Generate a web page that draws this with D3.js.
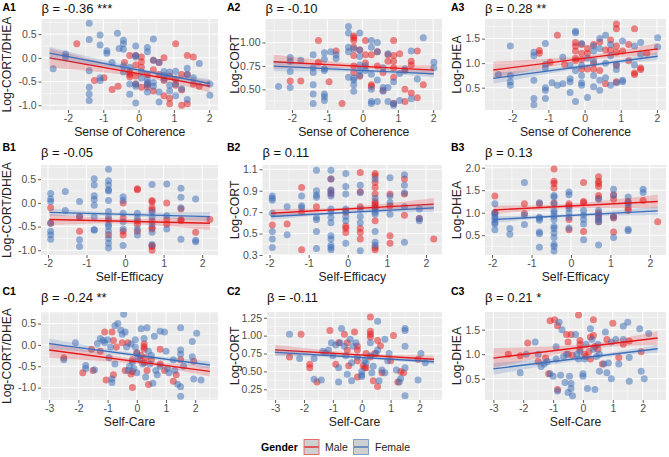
<!DOCTYPE html>
<html><head><meta charset="utf-8">
<script src="https://cdn.jsdelivr.net/npm/d3@7"></script>
<style>body{margin:0;background:#fff} svg{display:block} text{font-family:"Liberation Sans",Arial,Helvetica,sans-serif}</style>
</head><body><svg id="c" width="669" height="457"></svg>
<script>
// ---------------- DATA ----------------
const panelIds = ["A1","A2","A3","B1","B2","B3","C1","C2","C3"];
const betaLabels = ["β = -0.36 ***","β = -0.10","β = 0.28 **","β = -0.05","β = 0.11","β = 0.13","β = -0.24 **","β = -0.11","β = 0.21 *"];
const xTitles = ["Sense of Coherence","Self-Efficacy","Self-Care"];
const yTitles = ["Log-CORT/DHEA","Log-CORT","Log-DHEA"];
const genders = ["Male","Female"];
const xDomains = [[-2.75,2.25],[-2.18,2.41],[-3.28,2.78]];
const xTicksA = [-2,-1,0,1,2];
const xTicksB = [-2,-1,0,1,2];
const xTicksC = [-3,-2,-1,0,1,2];
const yDomains = [[-1.1,0.82],[0.28,1.25],[0.045,1.9],[-1.1,0.80],[0.30,1.14],[0.06,2.06],[-1.29,0.77],[0.10,1.33],[0.065,1.86]];
const yTicks1 = [-1.0,-0.5,0.0,0.5];
const yTicksA2 = [0.50,0.75,1.00];
const yTicksB2 = [0.3,0.5,0.7,0.9,1.1];
const yTicksC2 = [0.25,0.50,0.75,1.00,1.25];
const yTicks3 = [0.5,1.0,1.5];
const yTicksB3 = [0.5,1.0,1.5,2.0];

// regression lines [[x0,y0],[x1,y1]] and CI half-widths [left, min, right]
const a1LineMale=[[-2.52,0.0],[2.02,-0.60]],   a1BandMale=[0.20,0.055,0.13];
const a1LineFemale=[[-2.52,0.10],[2.02,-0.54]], a1BandFemale=[0.13,0.04,0.09];
const a2LineMale=[[-2.52,0.795],[2.02,0.705]], a2BandMale=[0.075,0.022,0.055];
const a2LineFemale=[[-2.52,0.748],[2.02,0.665]], a2BandFemale=[0.055,0.016,0.04];
const a3LineMale=[[-2.52,0.86],[2.02,1.29]],   a3BandMale=[0.17,0.05,0.12];
const a3LineFemale=[[-2.52,0.69],[2.02,1.14]], a3BandFemale=[0.11,0.035,0.08];
const b1LineMale=[[-1.96,-0.35],[2.2,-0.43]],  b1BandMale=[0.12,0.05,0.14];
const b1LineFemale=[[-1.96,-0.20],[2.2,-0.29]], b1BandFemale=[0.08,0.035,0.10];
const b2LineMale=[[-1.96,0.69],[2.2,0.775]],   b2BandMale=[0.04,0.015,0.055];
const b2LineFemale=[[-1.96,0.66],[2.2,0.74]],  b2BandFemale=[0.03,0.012,0.04];
const b3LineMale=[[-1.96,1.06],[2.2,1.25]],    b3BandMale=[0.10,0.045,0.15];
const b3LineFemale=[[-1.96,0.85],[2.2,1.04]],  b3BandFemale=[0.07,0.03,0.09];
const c1LineMale=[[-3,-0.12],[2.5,-0.62]],     c1BandMale=[0.18,0.05,0.12];
const c1LineFemale=[[-3,0.03],[2.5,-0.47]],    c1BandFemale=[0.12,0.04,0.09];
const c2LineMale=[[-3,0.80],[2.5,0.67]],       c2BandMale=[0.07,0.02,0.05];
const c2LineFemale=[[-3,0.765],[2.5,0.635]],   c2BandFemale=[0.05,0.015,0.035];
const c3LineMale=[[-3,0.92],[2.5,1.33]],       c3BandMale=[0.2,0.05,0.14];
const c3LineFemale=[[-3,0.70],[2.5,1.11]],     c3BandFemale=[0.12,0.035,0.08];

// scatter points [x, y]
const a1Female=[[-2.42,-0.23],[-2.07,0.08],[-2.07,0.02],[-1.40,0.73],[-1.40,0.39],[-1.40,-0.27],[-1.40,-0.62],[-1.40,-0.76],[-1.40,-0.90],[-1.09,0.48],[-1.09,0.27],[-1.09,-0.42],[-1.09,-0.48],[-0.90,0.10],[-0.90,0.15],[-0.75,-0.10],[-0.60,0.52],[-0.55,0.20],[-0.43,0.30],[-0.43,0.37],[-0.43,0.18],[-0.43,-0.17],[-0.43,-0.30],[-0.25,-0.55],[-0.25,-0.77],[-0.25,-0.20],[-0.08,0.05],[-0.08,0.25],[-0.08,0.02],[-0.08,-0.55],[-0.08,-0.60],[-0.08,-0.95],[0.08,-0.43],[0.08,-0.30],[0.25,0.22],[0.25,0.13],[0.25,-0.45],[0.25,-0.52],[0.25,-0.57],[0.25,-0.72],[0.42,0.40],[0.42,-0.05],[0.42,-0.52],[0.42,-0.60],[0.58,-0.10],[0.58,-0.72],[0.58,-0.93],[0.72,-0.29],[0.72,-0.37],[0.72,-0.45],[0.88,-0.58],[0.88,-0.70],[0.88,-0.30],[1.05,-0.80],[1.05,-0.28],[1.05,-0.55],[1.22,-0.65],[1.38,-0.22],[1.38,-0.35],[1.38,-0.88],[1.55,-0.42],[1.72,-0.12],[2.02,-0.55],[2.02,-0.79]];
const a1Male=[[-1.75,0.30],[-1.25,-0.48],[-0.98,-0.42],[-0.75,-0.67],[-0.58,-0.60],[-0.40,-0.10],[-0.25,0.05],[-0.25,-0.30],[-0.25,-0.35],[-0.25,-0.40],[-0.08,0.05],[-0.08,-0.15],[-0.08,-0.38],[-0.08,-0.55],[0.08,0.02],[0.08,-0.08],[0.08,-0.20],[0.08,-0.62],[0.25,-0.35],[0.25,-0.55],[0.25,-0.62],[0.42,-0.05],[0.42,-0.25],[0.58,-0.35],[0.72,0.00],[0.72,-0.48],[0.72,-0.80],[0.88,-0.38],[0.88,-0.85],[0.88,-0.97],[1.05,0.30],[1.05,-0.45],[1.05,-0.58],[1.22,-0.35],[1.22,-0.68],[1.22,-1.00],[1.38,0.05],[1.38,-0.35],[1.38,-0.97],[1.55,-0.55],[1.72,-0.60],[1.55,0.02],[0.58,-0.10],[0.42,-0.70]];
const a2Female=[[-2.38,0.53],[-2.05,0.84],[-2.05,0.80],[-2.05,0.69],[-2.05,0.52],[-1.75,0.81],[-1.40,0.87],[-1.40,0.73],[-1.40,0.68],[-1.40,0.55],[-1.40,0.45],[-1.40,0.35],[-1.08,0.89],[-1.08,0.82],[-1.08,0.72],[-1.08,0.70],[-1.08,0.45],[-1.08,0.42],[-1.08,0.38],[-0.90,0.90],[-0.75,0.87],[-0.75,0.83],[-0.40,1.17],[-0.40,1.10],[-0.40,0.95],[-0.40,0.90],[-0.40,0.63],[-0.25,0.62],[-0.25,0.60],[-0.25,0.55],[-0.25,0.48],[-0.25,0.93],[-0.08,1.10],[-0.08,0.92],[-0.08,0.85],[-0.08,0.76],[-0.08,0.70],[-0.08,0.65],[0.08,0.75],[0.08,0.70],[0.25,1.02],[0.25,0.95],[0.25,0.66],[0.25,0.50],[0.25,0.37],[0.25,0.35],[0.42,1.00],[0.42,0.90],[0.42,0.60],[0.42,0.37],[0.58,0.73],[0.58,0.52],[0.58,0.48],[0.72,0.88],[0.72,0.52],[0.72,0.37],[0.88,0.58],[0.88,0.33],[0.88,0.35],[1.05,0.67],[1.05,0.38],[1.20,0.72],[1.38,0.91],[1.38,0.40],[1.55,0.61],[1.72,1.05],[2.02,0.79],[2.02,0.73]];
const a2Male=[[-2.05,0.59],[-1.75,0.59],[-1.25,1.02],[-1.25,0.79],[-0.95,0.58],[-0.75,0.91],[-0.58,0.35],[-0.25,1.07],[-0.25,1.05],[-0.25,1.02],[-0.25,0.95],[-0.25,0.86],[-0.25,0.75],[-0.25,0.68],[-0.08,0.92],[-0.08,0.64],[0.08,1.02],[0.08,0.87],[0.08,0.78],[0.25,0.87],[0.25,0.55],[0.25,0.53],[0.42,0.90],[0.42,0.75],[0.58,0.68],[0.58,0.49],[0.72,0.87],[0.72,0.80],[0.88,1.02],[0.88,0.86],[0.88,0.80],[0.88,0.73],[0.88,0.63],[0.88,0.35],[1.05,0.88],[1.20,0.70],[1.20,0.50],[1.20,0.37],[1.38,0.80],[1.38,0.76],[1.38,0.46],[1.55,0.91],[1.55,0.41],[1.72,0.55]];
const a3Female=[[-2.38,0.77],[-2.05,1.35],[-2.05,0.75],[-2.05,0.62],[-2.05,0.55],[-1.40,1.22],[-1.40,1.15],[-1.40,0.65],[-1.40,0.28],[-1.40,0.15],[-1.08,1.40],[-1.08,0.98],[-1.08,0.90],[-1.08,0.50],[-1.08,0.45],[-1.08,0.28],[-0.90,0.60],[-0.75,0.55],[-0.60,1.12],[-0.60,0.58],[-0.40,0.95],[-0.40,0.68],[-0.40,0.62],[-0.40,0.40],[-0.25,1.65],[-0.25,1.62],[-0.25,0.85],[-0.25,0.22],[-0.08,1.40],[-0.08,0.95],[-0.08,0.75],[-0.08,0.60],[-0.08,0.55],[0.08,1.10],[0.08,0.30],[0.25,1.35],[0.25,1.25],[0.25,1.05],[0.25,0.75],[0.25,0.52],[0.42,1.50],[0.42,1.30],[0.42,0.65],[0.42,0.45],[0.58,1.57],[0.58,1.00],[0.58,0.70],[0.72,1.38],[0.72,1.15],[0.72,0.55],[0.88,0.98],[0.88,0.87],[0.88,0.60],[1.05,0.65],[1.05,0.62],[1.05,1.45],[1.38,1.35],[1.38,0.96],[1.55,1.42],[1.55,1.18],[2.02,1.52],[2.02,1.33]];
const a3Male=[[-1.25,1.26],[-1.25,1.20],[-0.95,1.02],[-0.75,1.57],[-0.55,0.97],[-0.25,1.42],[-0.25,1.35],[-0.25,1.25],[-0.25,1.10],[-0.25,1.05],[-0.08,1.38],[-0.08,1.20],[-0.08,1.07],[-0.08,0.88],[0.08,1.30],[0.08,1.20],[0.08,0.88],[0.25,1.38],[0.25,1.00],[0.25,0.88],[0.42,1.43],[0.42,0.85],[0.58,1.27],[0.58,0.58],[0.72,1.47],[0.72,1.27],[0.88,1.80],[0.88,1.70],[0.88,1.35],[0.88,1.22],[0.88,0.95],[0.88,0.62],[1.05,1.25],[1.22,1.38],[1.22,1.05],[1.38,1.70],[1.38,0.80],[1.38,0.77],[1.55,0.90],[1.55,0.87],[1.72,1.20]];
const b1Female=[[-1.93,0.20],[-1.93,0.08],[-1.93,0.03],[-1.93,-0.43],[-1.93,-0.60],[-1.93,-0.67],[-1.93,-0.77],[-1.55,0.24],[-1.55,-0.16],[-1.18,0.03],[-1.18,-0.30],[-1.18,-0.78],[-1.18,-0.92],[-0.80,0.51],[-0.80,0.38],[-0.80,0.15],[-0.80,0.07],[-0.80,-0.05],[-0.80,-0.30],[-0.80,-0.56],[-0.80,-0.58],[-0.43,0.71],[-0.43,0.47],[-0.43,0.38],[-0.43,0.28],[-0.43,0.25],[-0.43,0.05],[-0.43,-0.18],[-0.43,-0.30],[-0.43,-0.45],[-0.43,-0.50],[-0.43,-0.60],[-0.43,-0.75],[-0.43,-0.85],[-0.43,-0.95],[-0.05,0.13],[-0.05,0.05],[-0.05,-0.22],[-0.05,-0.40],[-0.05,-0.55],[-0.05,-0.90],[0.32,-0.22],[0.32,-0.32],[0.32,-0.55],[0.32,-0.68],[0.70,0.39],[0.70,-0.20],[0.70,-0.30],[0.70,-0.45],[0.70,-0.62],[0.70,-0.88],[1.08,0.40],[1.08,-0.27],[1.08,-0.55],[1.45,0.31],[1.45,0.12],[1.45,-0.10],[1.45,-0.77],[1.83,0.08],[1.83,-0.79],[1.83,-0.82]];
const b1Male=[[-1.93,-0.10],[-1.93,-0.43],[-1.18,-0.28],[-1.18,-0.60],[-0.43,-0.67],[-0.43,-0.35],[-0.05,0.00],[-0.05,-0.32],[-0.05,-0.60],[-0.05,-0.68],[0.32,0.30],[0.32,0.28],[0.32,-0.38],[0.32,-0.45],[0.32,-0.60],[0.70,0.05],[0.70,0.02],[0.70,-0.10],[0.70,-0.15],[0.70,-0.38],[0.70,-0.52],[0.70,-0.55],[0.70,-0.90],[0.70,-0.92],[0.70,-1.0],[1.08,0.00],[1.08,-0.35],[1.08,-0.45],[1.45,-0.13],[1.45,-0.35],[1.45,-0.37],[1.83,-0.62],[2.2,-0.35]];
const b2Female=[[-1.93,0.85],[-1.93,0.83],[-1.93,0.81],[-1.93,0.69],[-1.93,0.52],[-1.93,0.45],[-1.93,0.37],[-1.55,0.75],[-1.55,0.49],[-1.18,0.85],[-1.18,0.76],[-1.18,0.74],[-0.80,1.09],[-0.80,0.90],[-0.80,0.86],[-0.80,0.84],[-0.80,0.65],[-0.80,0.63],[-0.80,0.52],[-0.80,0.36],[-0.43,1.09],[-0.43,1.01],[-0.43,0.91],[-0.43,0.88],[-0.43,0.85],[-0.43,0.73],[-0.43,0.70],[-0.43,0.65],[-0.43,0.60],[-0.43,0.48],[-0.43,0.45],[-0.43,0.39],[-0.43,0.37],[-0.43,0.35],[-0.05,1.06],[-0.05,0.94],[-0.05,0.87],[-0.05,0.73],[-0.05,0.71],[-0.05,0.66],[-0.05,0.62],[-0.05,0.41],[0.32,0.95],[0.32,0.88],[0.32,0.73],[0.32,0.66],[0.32,0.60],[0.32,0.34],[0.70,1.01],[0.70,0.83],[0.70,0.73],[0.70,0.70],[0.70,0.68],[0.70,0.52],[0.70,0.42],[0.70,0.39],[1.08,1.02],[1.08,0.85],[1.08,0.79],[1.08,0.68],[1.45,1.05],[1.45,0.95],[1.45,0.88],[1.45,0.75],[1.45,0.42],[1.83,0.73],[1.83,0.64],[1.83,0.62]];
const b2Male=[[-1.93,0.58],[-1.55,0.59],[-1.18,0.93],[-1.18,0.70],[-1.18,0.35],[-0.80,0.75],[-0.43,1.01],[-0.43,0.90],[-0.43,0.87],[-0.05,0.70],[-0.05,0.57],[-0.05,0.55],[-0.05,0.51],[0.32,1.07],[0.32,0.89],[0.32,0.75],[0.32,0.55],[0.32,0.51],[0.32,0.45],[0.70,1.06],[0.70,1.04],[0.70,0.98],[0.70,0.93],[0.70,0.87],[0.70,0.80],[0.70,0.78],[0.70,0.76],[0.70,0.74],[0.70,0.62],[0.70,0.37],[0.70,0.35],[1.08,0.87],[1.08,0.76],[1.08,0.48],[1.08,0.41],[1.45,1.01],[1.45,0.87],[1.45,0.67],[1.83,0.64],[2.2,0.45]];
const b3Female=[[-1.93,1.20],[-1.93,1.00],[-1.93,0.96],[-1.93,0.90],[-1.93,0.85],[-1.93,0.78],[-1.93,0.75],[-1.93,0.62],[-1.55,0.65],[-1.55,0.52],[-1.18,1.67],[-1.18,0.95],[-1.18,0.74],[-0.80,1.22],[-0.80,0.90],[-0.80,0.87],[-0.80,0.83],[-0.80,0.57],[-0.80,0.53],[-0.80,0.23],[-0.43,1.38],[-0.43,1.35],[-0.43,1.20],[-0.43,1.05],[-0.43,1.00],[-0.43,0.92],[-0.43,0.85],[-0.43,0.70],[-0.43,0.65],[-0.43,0.55],[-0.43,0.45],[-0.43,0.30],[-0.43,0.25],[-0.43,0.15],[-0.05,1.46],[-0.05,1.40],[-0.05,1.10],[-0.05,1.00],[-0.05,0.90],[-0.05,0.66],[0.32,1.05],[0.32,0.95],[0.32,0.85],[0.32,0.75],[0.32,0.40],[0.70,1.30],[0.70,1.05],[0.70,0.92],[0.70,0.85],[0.70,0.80],[0.70,0.28],[1.08,1.52],[1.08,1.38],[1.08,0.90],[1.08,0.45],[1.45,1.35],[1.45,1.22],[1.45,1.18],[1.45,0.63],[1.45,0.60],[1.83,1.52],[1.83,1.45]];
const b3Male=[[-1.93,1.37],[-1.93,1.00],[-1.18,1.20],[-1.18,0.98],[-0.80,1.20],[-0.43,1.97],[-0.43,1.70],[-0.43,1.65],[-0.43,1.55],[-0.43,1.22],[-0.05,1.20],[-0.05,1.15],[-0.05,0.85],[-0.05,0.62],[0.32,1.67],[0.32,1.25],[0.32,1.22],[0.32,0.58],[0.70,1.80],[0.70,1.70],[0.70,1.65],[0.70,1.58],[0.70,1.38],[0.70,1.32],[0.70,1.00],[0.70,0.95],[0.70,0.88],[0.70,0.80],[1.08,1.40],[1.08,1.30],[1.08,0.92],[1.08,0.88],[1.08,0.57],[1.45,1.25],[1.45,1.10],[1.45,1.05],[1.83,1.27],[2.2,0.80]];
const c1Female=[[-2.5,-0.35],[-2.1,0.05],[-1.75,-0.48],[-1.75,-0.55],[-1.45,-0.58],[-1.35,0.03],[-1.25,0.15],[-1.15,0.10],[-1.1,0.05],[-1.0,0.12],[-0.95,-0.30],[-0.9,-0.05],[-0.85,-0.80],[-0.85,-0.88],[-0.75,0.45],[-0.75,-0.45],[-0.65,0.50],[-0.55,0.35],[-0.5,0.25],[-0.45,0.72],[-0.4,0.30],[-0.35,-0.05],[-0.3,-0.60],[-0.25,-0.50],[-0.2,0.02],[-0.15,-0.40],[-0.1,-0.55],[-0.05,0.12],[-0.05,-0.05],[0.0,-0.20],[0.0,-0.65],[0.05,-0.30],[0.15,0.38],[0.2,-0.45],[0.25,0.15],[0.3,-0.75],[0.35,0.40],[0.4,-0.15],[0.45,-0.45],[0.5,-0.25],[0.55,-0.90],[0.6,0.20],[0.65,-0.60],[0.7,-0.70],[0.8,0.32],[0.8,-0.50],[0.95,0.30],[1.0,-0.15],[1.05,-0.55],[1.1,-0.65],[1.25,-0.35],[1.3,-0.60],[1.4,-0.92],[1.5,0.40],[1.5,-0.12],[1.5,-0.22],[1.5,-0.98],[1.5,-1.2],[1.6,-0.50],[1.9,0.08],[1.9,-0.28],[1.95,-0.80],[2.05,0.27],[2.2,-0.82]];
const c1Male=[[-2.5,-0.30],[-1.85,-0.65],[-1.55,-0.10],[-1.5,-0.60],[-1.25,-0.15],[-1.1,0.30],[-1.05,-0.82],[-0.85,0.30],[-0.8,0.10],[-0.8,-0.70],[-0.7,-0.05],[-0.5,0.05],[-0.4,-0.60],[-0.3,0.05],[-0.2,-0.68],[-0.15,-0.35],[-0.15,-0.62],[-0.15,-1.00],[0.0,-0.18],[0.1,-0.33],[0.15,-0.25],[0.25,0.02],[0.25,-0.05],[0.25,-0.10],[0.25,-0.42],[0.3,-0.30],[0.35,-0.60],[0.4,-0.93],[0.5,-0.35],[0.8,-0.10],[0.8,-0.45],[0.95,-0.60],[1.25,-0.85],[1.35,-0.70],[1.5,-0.35],[1.95,-0.38]];
const c2Female=[[-2.5,1.02],[-2.15,0.68],[-1.65,0.68],[-1.65,0.39],[-1.4,0.38],[-1.35,0.78],[-1.25,0.76],[-1.15,0.80],[-1.05,0.90],[-1.0,0.72],[-0.9,0.87],[-0.8,0.55],[-0.8,0.35],[-0.75,0.90],[-0.7,1.10],[-0.6,0.85],[-0.55,0.72],[-0.5,0.46],[-0.4,0.95],[-0.35,0.62],[-0.35,0.37],[-0.3,0.85],[-0.2,0.90],[-0.15,0.70],[0.0,0.50],[0.0,0.45],[0.0,0.43],[0.1,0.65],[0.15,0.62],[0.3,0.90],[0.3,0.72],[0.35,0.48],[0.4,0.57],[0.5,0.75],[0.55,1.20],[0.55,0.80],[0.6,0.37],[0.7,0.52],[0.8,0.95],[0.8,0.48],[0.9,0.65],[0.95,0.75],[1.2,0.52],[1.3,0.35],[1.35,0.40],[1.5,1.10],[1.5,1.07],[1.5,0.85],[1.5,0.55],[1.5,0.16],[1.95,0.38],[2.05,0.75],[2.2,0.62]];
const c2Male=[[-2.5,0.70],[-2.1,1.02],[-1.8,0.60],[-1.8,0.55],[-1.55,0.35],[-1.1,1.07],[-0.9,0.60],[-0.8,0.90],[-0.6,1.02],[-0.5,0.90],[-0.5,0.80],[-0.45,0.58],[-0.25,1.05],[-0.15,0.85],[-0.15,0.80],[-0.15,0.65],[-0.15,0.42],[0.05,0.58],[0.1,0.55],[0.15,0.55],[0.15,0.75],[0.3,1.26],[0.3,1.06],[0.3,1.02],[0.3,0.98],[0.3,0.70],[0.4,0.37],[0.45,0.75],[0.55,0.93],[0.55,0.29],[0.65,0.86],[0.7,0.48],[1.0,0.65],[1.1,1.00],[1.25,0.35],[1.35,0.50],[1.45,0.48],[1.95,0.67]];
const c3Female=[[-2.1,0.62],[-1.9,1.0],[-1.6,1.25],[-1.5,1.0],[-1.4,0.75],[-1.3,0.80],[-1.2,0.85],[-1.1,0.60],[-1.0,0.55],[-0.9,1.15],[-0.9,0.90],[-0.85,0.25],[-0.8,1.65],[-0.75,0.57],[-0.7,1.50],[-0.65,0.95],[-0.6,0.42],[-0.55,1.0],[-0.5,0.22],[-0.45,0.55],[-0.4,0.40],[-0.4,0.30],[-0.35,0.15],[-0.25,1.40],[-0.2,1.0],[-0.15,0.90],[-0.1,1.05],[0.0,0.55],[0.0,0.60],[0.05,0.90],[0.1,1.20],[0.15,0.30],[0.25,1.52],[0.3,1.30],[0.35,1.10],[0.4,0.28],[0.45,0.95],[0.5,1.20],[0.55,1.0],[0.55,0.65],[0.7,0.80],[0.75,1.45],[0.8,0.62],[0.85,0.82],[0.95,1.25],[0.95,0.50],[1.1,1.30],[1.2,0.80],[1.35,1.57],[1.35,1.30],[1.5,1.65],[1.55,0.93],[1.55,0.45],[1.9,1.52],[1.95,0.65],[2.05,0.50],[2.2,1.42]];
const c3Male=[[-2.5,1.0],[-2.1,0.97],[-1.85,1.23],[-1.5,0.85],[-1.25,0.92],[-1.15,0.60],[-1.1,1.68],[-0.95,1.70],[-0.85,1.58],[-0.85,0.28],[-0.55,1.40],[-0.5,1.25],[-0.5,1.00],[-0.4,1.40],[-0.35,0.98],[-0.15,1.80],[-0.1,1.28],[-0.1,1.20],[-0.1,1.10],[0.05,1.0],[0.1,0.95],[0.2,1.05],[0.25,1.35],[0.25,0.90],[0.35,1.70],[0.35,1.38],[0.4,1.15],[0.5,1.10],[0.65,0.80],[0.8,1.30],[1.0,1.63],[1.2,0.93],[1.35,1.20],[1.55,1.27],[1.95,1.05]];

// ---------------- LAYOUT / STYLE ----------------
const colMale = "#E41A1C", colFemale = "#3F6FB8";
const rowTop = [19,165,312], rowBottom = [110,255,400];
const labelBase = [10.5,150.5,295], betaBase = [12.5,157,302];
const panelLeft = [[41.5,265.5,485],[41,262.5,485],[41,267,485]];
const panelRight = [218,442,666];
const labelX = [2.5,227,451];
const yTitleX = [11,238.5,461];

const table = [
 {m:a1Male,f:a1Female,lm:a1LineMale,bm:a1BandMale,lf:a1LineFemale,bf:a1BandFemale,xt:xTicksA,yt:yTicks1,fmt:".1f"},
 {m:a2Male,f:a2Female,lm:a2LineMale,bm:a2BandMale,lf:a2LineFemale,bf:a2BandFemale,xt:xTicksA,yt:yTicksA2,fmt:".2f"},
 {m:a3Male,f:a3Female,lm:a3LineMale,bm:a3BandMale,lf:a3LineFemale,bf:a3BandFemale,xt:xTicksA,yt:yTicks3,fmt:".1f"},
 {m:b1Male,f:b1Female,lm:b1LineMale,bm:b1BandMale,lf:b1LineFemale,bf:b1BandFemale,xt:xTicksB,yt:yTicks1,fmt:".1f"},
 {m:b2Male,f:b2Female,lm:b2LineMale,bm:b2BandMale,lf:b2LineFemale,bf:b2BandFemale,xt:xTicksB,yt:yTicksB2,fmt:".1f"},
 {m:b3Male,f:b3Female,lm:b3LineMale,bm:b3BandMale,lf:b3LineFemale,bf:b3BandFemale,xt:xTicksB,yt:yTicksB3,fmt:".1f"},
 {m:c1Male,f:c1Female,lm:c1LineMale,bm:c1BandMale,lf:c1LineFemale,bf:c1BandFemale,xt:xTicksC,yt:yTicks1,fmt:".1f"},
 {m:c2Male,f:c2Female,lm:c2LineMale,bm:c2BandMale,lf:c2LineFemale,bf:c2BandFemale,xt:xTicksC,yt:yTicksC2,fmt:".2f"},
 {m:c3Male,f:c3Female,lm:c3LineMale,bm:c3BandMale,lf:c3LineFemale,bf:c3BandFemale,xt:xTicksC,yt:yTicks3,fmt:".1f"}
];

const svg = d3.select("#c");
svg.append("rect").attr("width",669).attr("height",457).attr("fill","#fff");

function minorBreaks(ticks, dom){
  const step = ticks[1]-ticks[0];
  const out = [];
  for (let v = ticks[0]-step/2; v <= dom[1]; v += step) if (v >= dom[0]) out.push(+v.toFixed(4));
  return out;
}

function bandFn(line, band){
  const [[x0,y0],[x1,y1]] = line;
  const [hl, a, hr] = band;
  const r = Math.sqrt((hl*hl-a*a)/(hr*hr-a*a));
  const xc = (x0 + r*x1)/(1+r);
  const b = Math.sqrt(hl*hl-a*a)/(xc-x0);
  const slope = (y1-y0)/(x1-x0);
  return d3.range(0,61).map(i=>{
    const x = x0 + (x1-x0)*i/60;
    const y = y0 + slope*(x-x0);
    const h = Math.sqrt(a*a + b*b*(x-xc)*(x-xc));
    return {x, lo:y-h, hi:y+h};
  });
}

panelIds.forEach((id,i)=>{
  const row = Math.floor(i/3), col = i%3;
  const d = table[i];
  const L = panelLeft[row][col], R = panelRight[col], T = rowTop[row], B = rowBottom[row];
  const x = d3.scaleLinear().domain(xDomains[row]).range([L,R]);
  const y = d3.scaleLinear().domain(yDomains[i]).range([B,T]);
  const g = svg.append("g");
  g.append("rect").attr("x",L).attr("y",T).attr("width",R-L).attr("height",B-T).attr("fill","#EBEBEB");
  const clipId = "clip"+id;
  g.append("clipPath").attr("id",clipId).append("rect").attr("x",L).attr("y",T).attr("width",R-L).attr("height",B-T);
  const grid = g.append("g").attr("stroke","#fff");
  minorBreaks(d.xt, xDomains[row]).forEach(v=>grid.append("line").attr("x1",x(v)).attr("x2",x(v)).attr("y1",T).attr("y2",B).attr("stroke-width",0.5));
  minorBreaks(d.yt, yDomains[i]).forEach(v=>grid.append("line").attr("y1",y(v)).attr("y2",y(v)).attr("x1",L).attr("x2",R).attr("stroke-width",0.5));
  d.xt.forEach(v=>grid.append("line").attr("x1",x(v)).attr("x2",x(v)).attr("y1",T).attr("y2",B).attr("stroke-width",1));
  d.yt.forEach(v=>grid.append("line").attr("y1",y(v)).attr("y2",y(v)).attr("x1",L).attr("x2",R).attr("stroke-width",1));

  const plot = g.append("g").attr("clip-path",`url(#${clipId})`);
  [[d.m,colMale],[d.f,colFemale]].forEach(([pts,c])=>{
    plot.append("g").selectAll("circle").data(pts).join("circle")
      .attr("cx",p=>x(p[0])).attr("cy",p=>y(p[1])).attr("r",3.5)
      .attr("fill",c).attr("fill-opacity",0.52);
  });
  [[d.lm,d.bm,colMale],[d.lf,d.bf,colFemale]].forEach(([ln,bd,c])=>{
    const pts = bandFn(ln,bd);
    plot.append("path").datum(pts)
      .attr("d", d3.area().x(p=>x(p.x)).y0(p=>y(p.lo)).y1(p=>y(p.hi)))
      .attr("fill",c).attr("fill-opacity",0.2);
    plot.append("path").datum(ln)
      .attr("d", d3.line().x(p=>x(p[0])).y(p=>y(p[1])))
      .attr("stroke",c).attr("stroke-width",1.4).attr("fill","none");
  });

  const fmt = d3.format(d.fmt);
  const xa = g.append("g").attr("transform",`translate(0,${B})`)
    .call(d3.axisBottom(x).tickValues(d.xt).tickSize(3).tickPadding(2));
  const ya = g.append("g").attr("transform",`translate(${L},0)`)
    .call(d3.axisLeft(y).tickValues(d.yt).tickSize(3).tickPadding(2));
  [xa,ya].forEach(a=>{
    a.select(".domain").remove();
    a.selectAll(".tick line").attr("stroke","#333").attr("stroke-width",0.8);
    a.selectAll(".tick text").attr("fill","#4D4D4D").attr("font-size",10.5)
      .attr("font-family",'"Liberation Sans",Arial,sans-serif');
  });
  xa.selectAll(".tick text").text(v=>d3.format("d")(v).replace("−","-"));
  ya.selectAll(".tick text").text(v=>fmt(v).replace("−","-"));

  g.append("text").attr("x",(L+R)/2).attr("y",B+25.5).attr("text-anchor","middle")
    .attr("font-size",12.2).attr("fill","#222").text(xTitles[row]);
  g.append("text").attr("transform",`translate(${yTitleX[col]},${(T+B)/2}) rotate(-90)`)
    .attr("text-anchor","middle").attr("font-size",12.2).attr("fill","#222").text(yTitles[col]);
  g.append("text").attr("x",L).attr("y",betaBase[row]).attr("font-size",13).attr("fill","#111").text(betaLabels[i]);
  g.append("text").attr("x",labelX[col]).attr("y",labelBase[row]).attr("font-size",10.5).attr("font-weight","bold").attr("fill","#000").text(id);
});

// legend
const lg = svg.append("g");
lg.append("text").attr("x",261).attr("y",451).attr("font-size",10.5).attr("font-weight","bold").text("Gender");
const keyX = [304,353.5], labX = [325,375];
genders.forEach((gname,k)=>{
  const c = k===0?colMale:colFemale;
  lg.append("rect").attr("x",keyX[k]).attr("y",439.5).attr("width",15).attr("height",15)
    .attr("fill","#D0D0D0").attr("stroke",c).attr("stroke-opacity",0.6).attr("stroke-width",1);
  lg.append("line").attr("x1",keyX[k]+0.5).attr("x2",keyX[k]+14.5).attr("y1",447).attr("y2",447)
    .attr("stroke",c).attr("stroke-width",1.3);
  lg.append("text").attr("x",labX[k]).attr("y",451).attr("font-size",10.5).attr("fill","#222").text(gname);
});
</script></body></html>
